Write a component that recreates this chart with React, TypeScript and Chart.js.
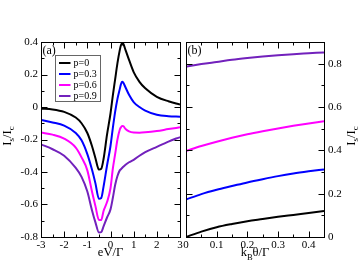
import React, { useEffect, useRef } from "react";
import { Chart, registerables } from "chart.js";
Chart.register(...registerables);

// ---------- data ----------
const SERIES_LABELS = ["p=0", "p=0.3", "p=0.6", "p=0.9"];
const SERIES_COLORS = ["#000000", "#0000ff", "#ff00ff", "#7221bc"];

// panel (a): I_s/I_c vs eV/Γ
const X_A = [-3, -2.5, -2, -1.5, -1.25, -1, -0.8, -0.65, -0.5, -0.4, -0.3, -0.15, 0, 0.1, 0.2, 0.3, 0.4, 0.45, 0.5, 0.55, 0.65, 0.8, 1, 1.25, 1.5, 2, 2.5, 3];
const A_P0 = [-0.01, -0.015, -0.03, -0.065, -0.1, -0.16, -0.24, -0.315, -0.385, -0.38, -0.32, -0.17, -0.04, 0.07, 0.17, 0.27, 0.35, 0.38, 0.393, 0.39, 0.35, 0.29, 0.215, 0.155, 0.115, 0.063, 0.035, 0.015];
const A_P3 = [-0.08, -0.095, -0.115, -0.16, -0.205, -0.29, -0.385, -0.47, -0.565, -0.56, -0.49, -0.36, -0.24, -0.13, -0.03, 0.05, 0.11, 0.14, 0.155, 0.15, 0.12, 0.075, 0.03, 0.0, -0.022, -0.048, -0.057, -0.06];
const A_P6 = [-0.157, -0.17, -0.195, -0.25, -0.31, -0.39, -0.52, -0.61, -0.695, -0.695, -0.64, -0.585, -0.5, -0.38, -0.29, -0.2, -0.14, -0.125, -0.117, -0.118, -0.135, -0.15, -0.157, -0.158, -0.156, -0.148, -0.136, -0.125];
const A_P9 = [-0.23, -0.26, -0.3, -0.375, -0.43, -0.52, -0.635, -0.71, -0.772, -0.77, -0.735, -0.68, -0.63, -0.56, -0.48, -0.425, -0.39, -0.383, -0.375, -0.368, -0.355, -0.34, -0.325, -0.3, -0.278, -0.245, -0.213, -0.185];

// panel (b): I_s/I_c vs k_B θ/Γ
const X_B = [0, 0.05, 0.1, 0.15, 0.2, 0.25, 0.3, 0.35, 0.4, 0.45];
const B_P0 = [0, 0.025, 0.045, 0.06, 0.073, 0.083, 0.093, 0.102, 0.111, 0.12];
const B_P3 = [0.173, 0.198, 0.218, 0.235, 0.252, 0.267, 0.281, 0.293, 0.303, 0.312];
const B_P6 = [0.397, 0.42, 0.44, 0.458, 0.474, 0.488, 0.501, 0.513, 0.524, 0.534];
const B_P9 = [0.786, 0.798, 0.808, 0.818, 0.826, 0.833, 0.839, 0.844, 0.848, 0.852];

// ticks
const A_X_TICKS = [-3, -2, -1, 0, 1, 2, 3];
const A_X_MINOR = [-2.5, -1.5, -0.5, 0.5, 1.5, 2.5];
const A_Y_TICKS = [-0.8, -0.6, -0.4, -0.2, 0, 0.2, 0.4];
const A_Y_MINOR = [-0.7, -0.5, -0.3, -0.1, 0.1, 0.3];
const B_X_TICKS = [0, 0.1, 0.2, 0.3, 0.4];
const B_X_MINOR = [0.05, 0.15, 0.25, 0.35];
const B_Y_TICKS = [0, 0.2, 0.4, 0.6, 0.8];
const B_Y_MINOR = [0.1, 0.3, 0.5, 0.7];

const FONT = "'Liberation Serif', 'Times New Roman', serif";
const W = 359;
const H = 278;

type Part = { t: string; sub?: boolean };

function drawParts(ctx: CanvasRenderingContext2D, parts: Part[], ox: number, oy: number, angle: number, size: number, subSize: number, drop: number) {
  ctx.save();
  ctx.translate(ox, oy);
  ctx.rotate(angle);
  ctx.fillStyle = "#000";
  ctx.textBaseline = "alphabetic";
  ctx.textAlign = "left";
  let total = 0;
  const widths = parts.map((p) => {
    ctx.font = `${p.sub ? subSize : size}px ${FONT}`;
    const w = ctx.measureText(p.t).width;
    total += w;
    return w;
  });
  let x = -total / 2;
  parts.forEach((p, i) => {
    ctx.font = `${p.sub ? subSize : size}px ${FONT}`;
    ctx.fillText(p.t, x, p.sub ? drop : 0);
    x += widths[i];
  });
  ctx.restore();
}

function fmt(v: number | string) {
  const n = Number(v);
  if (Math.abs(n) < 1e-9) return "0";
  return String(Number(n.toFixed(2)));
}

function makePlugin(opts: {
  xMajor: number[]; xMinor: number[]; yMajor: number[]; yMinor: number[];
  panel: string; legend: boolean; xTitle: Part[]; yTitleX: number;
}) {
  return {
    id: "frameTicks" + opts.panel,
    afterDraw(chart: any) {
      const ctx: CanvasRenderingContext2D = chart.ctx;
      const ca = chart.chartArea;
      const xs = chart.scales.x;
      const ys = chart.scales.y;
      const L = Math.round(ca.left) + 0.5;
      const R = Math.round(ca.right) + 0.5;
      const T = Math.round(ca.top) + 0.5;
      const B = Math.round(ca.bottom) + 0.5;
      ctx.save();
      ctx.strokeStyle = "#000";
      ctx.lineWidth = 1;
      ctx.strokeRect(L, T, R - L, B - T);
      const MAJ = 6;
      const MIN = 3;
      ctx.beginPath();
      const xt = (v: number, len: number) => {
        const p = Math.round(xs.getPixelForValue(v)) + 0.5;
        ctx.moveTo(p, B); ctx.lineTo(p, B - len);
        ctx.moveTo(p, T); ctx.lineTo(p, T + len);
      };
      const yt = (v: number, len: number) => {
        const p = Math.round(ys.getPixelForValue(v)) + 0.5;
        ctx.moveTo(L, p); ctx.lineTo(L + len, p);
        ctx.moveTo(R, p); ctx.lineTo(R - len, p);
      };
      opts.xMajor.forEach((v) => xt(v, MAJ));
      opts.xMinor.forEach((v) => xt(v, MIN));
      opts.yMajor.forEach((v) => yt(v, MAJ));
      opts.yMinor.forEach((v) => yt(v, MIN));
      ctx.stroke();

      // panel label
      ctx.fillStyle = "#000";
      ctx.font = `12px ${FONT}`;
      ctx.textAlign = "left";
      ctx.textBaseline = "alphabetic";
      ctx.fillText(opts.panel, ca.left + 1.5, ca.top + 12);

      // legend
      if (opts.legend) {
        const bx = Math.round(ca.left) + 14.5;
        const by = Math.round(ca.top) + 13.5;
        ctx.strokeStyle = "#666";
        ctx.lineWidth = 1;
        ctx.strokeRect(bx, by, 45, 46);
        ctx.font = `10px ${FONT}`;
        ctx.textBaseline = "middle";
        chart.data.datasets.forEach((ds: any, i: number) => {
          const ry = by + 7.5 + i * 11;
          ctx.strokeStyle = ds.borderColor;
          ctx.lineWidth = 2;
          ctx.beginPath();
          ctx.moveTo(bx + 3.5, ry);
          ctx.lineTo(bx + 15, ry);
          ctx.stroke();
          ctx.fillStyle = "#000";
          ctx.fillText(ds.label, bx + 18, ry + 0.5);
        });
      }
      ctx.restore();

      // axis titles
      drawParts(ctx, opts.xTitle, (ca.left + ca.right) / 2, 256, 0, 12.5, 8.5, 3.5);
      drawParts(ctx, [{ t: "I" }, { t: "s", sub: true }, { t: "/I" }, { t: "c", sub: true }], opts.yTitleX, 136, -Math.PI / 2, 12.5, 9, 3);
    },
  };
}

function baseScale(extra: any, ticksPad: number, size: (s: any) => void, tickVals: number[]) {
  return {
    type: "linear",
    ...extra,
    afterBuildTicks: (s: any) => { s.ticks = tickVals.map((v) => ({ value: v })); },
    afterFit: size,
    grid: { display: false, drawTicks: false, tickLength: 0 },
    border: { display: false },
    ticks: {
      padding: ticksPad,
      color: "#000",
      font: { family: FONT, size: 11 },
      callback: fmt,
      autoSkip: false,
      maxRotation: 0,
      minRotation: 0,
    },
  };
}

function makeDatasets(xs: number[], ys: number[][]) {
  return ys.map((arr, i) => ({
    label: SERIES_LABELS[i],
    data: xs.map((x, j) => ({ x, y: arr[j] })),
    borderColor: SERIES_COLORS[i],
    backgroundColor: SERIES_COLORS[i],
    borderWidth: 2,
    pointRadius: 0,
    fill: false,
    cubicInterpolationMode: "monotone",
  }));
}

export default function App() {
  const refA = useRef<HTMLCanvasElement>(null);
  const refB = useRef<HTMLCanvasElement>(null);

  useEffect(() => {
    const chartA = new Chart(refA.current as HTMLCanvasElement, {
      type: "line",
      data: { datasets: makeDatasets(X_A, [A_P0, A_P3, A_P6, A_P9]) as any },
      options: {
        responsive: false,
        maintainAspectRatio: false,
        animation: false,
        layout: { padding: { left: 0, top: 42, right: 179, bottom: 0 } },
        plugins: { legend: { display: false }, tooltip: { enabled: false } },
        scales: {
          x: baseScale({ position: "bottom", min: -3, max: 3 }, 2, (s: any) => { s.height = 41; }, A_X_TICKS) as any,
          y: baseScale({ position: "left", min: -0.8, max: 0.4 }, 3, (s: any) => { s.width = 41; }, A_Y_TICKS) as any,
        },
      },
      plugins: [makePlugin({
        xMajor: A_X_TICKS, xMinor: A_X_MINOR, yMajor: A_Y_TICKS, yMinor: A_Y_MINOR,
        panel: "(a)", legend: true, xTitle: [{ t: "eV/Γ" }], yTitleX: 10.5,
      })],
    });
    const chartB = new Chart(refB.current as HTMLCanvasElement, {
      type: "line",
      data: { datasets: makeDatasets(X_B, [B_P0, B_P3, B_P6, B_P9]) as any },
      options: {
        responsive: false,
        maintainAspectRatio: false,
        animation: false,
        layout: { padding: { left: 186, top: 42, right: 0, bottom: 0 } },
        plugins: { legend: { display: false }, tooltip: { enabled: false } },
        scales: {
          x: baseScale({ position: "bottom", min: 0, max: 0.45 }, 2, (s: any) => { s.height = 41; }, B_X_TICKS) as any,
          y: baseScale({ position: "right", min: 0, max: 0.9 }, 4, (s: any) => { s.width = 35; }, B_Y_TICKS) as any,
        },
      },
      plugins: [makePlugin({
        xMajor: B_X_TICKS, xMinor: B_X_MINOR, yMajor: B_Y_TICKS, yMinor: B_Y_MINOR,
        panel: "(b)", legend: false,
        xTitle: [{ t: "k" }, { t: "B", sub: true }, { t: "θ/Γ" }], yTitleX: 354.5,
      })],
    });
    return () => {
      chartA.destroy();
      chartB.destroy();
    };
  }, []);

  const cs: React.CSSProperties = { position: "absolute", left: 0, top: 0, width: W, height: H };
  return (
    <div style={{ position: "fixed", left: 0, top: 0, width: W, height: H, background: "#fff" }}>
      <canvas ref={refA} width={W} height={H} style={cs} />
      <canvas ref={refB} width={W} height={H} style={cs} />
    </div>
  );
}
